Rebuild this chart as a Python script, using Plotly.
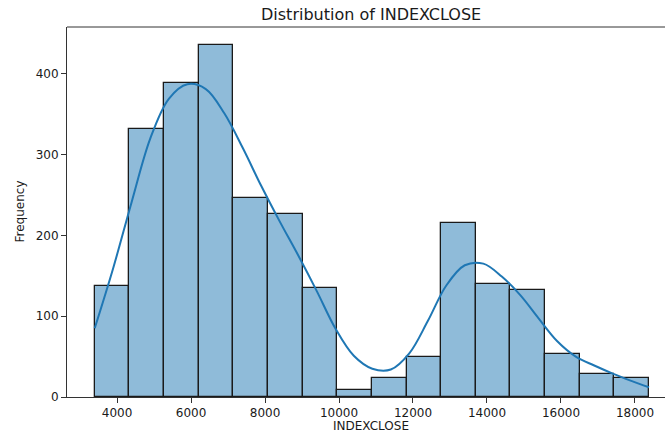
import numpy as np
import plotly.graph_objects as go

# Histogram of INDEXCLOSE: 16 equal-width bins between the observed min and max
data_min = 3397.0
data_max = 18379.0
n_bins = 16
counts = [137, 331, 388, 436, 246, 227, 135, 9, 23, 49, 215, 140, 133, 53, 29, 24]

# Kernel density estimate, scaled to counts
kde_x = [3397, 3900, 4400, 4900, 5400, 5900, 6400, 6900, 7400, 7900, 8400, 8900,
         9400, 9900, 10400, 10900, 11400, 11900, 12400, 12900, 13400, 13900,
         14400, 14900, 15400, 15900, 16400, 16900, 17400, 17900, 18379]
kde_y = [85, 160, 242, 320, 369, 387, 381, 351, 308, 261, 217, 175,
         131, 85, 51, 35, 34, 54, 94, 138, 163, 165,
         149, 126, 97, 69, 50, 39, 29, 20, 12]

x_ticks = [4000, 6000, 8000, 10000, 12000, 14000, 16000, 18000]
y_ticks = [0, 100, 200, 300, 400]

bin_width = (data_max - data_min) / n_bins
centers = data_min + bin_width * (np.arange(n_bins) + 0.5)

FONT = "DejaVu Sans"
INK = "#1a1a1a"
TICK_SIZE = 12

fig = go.Figure()
fig.add_trace(go.Bar(
    x=centers, y=counts, width=bin_width,
    marker=dict(color="rgba(31,119,180,0.5)", line=dict(color=INK, width=1.3)),
    showlegend=False,
))
fig.add_trace(go.Scatter(
    x=kde_x, y=kde_y, mode="lines",
    line=dict(color="#1f77b4", width=2, shape="spline", smoothing=1.0),
    showlegend=False,
))

pad = 0.05 * (data_max - data_min)
x_lo = data_min - pad
x_hi = x_lo + (data_max - data_min + 2 * pad) * 0.9808
y_hi = max(counts) * 1.05

fig.update_layout(
    width=665, height=432,
    margin=dict(l=67, r=0, t=27, b=35),
    paper_bgcolor="white", plot_bgcolor="white",
    font=dict(family=FONT, color=INK, size=TICK_SIZE),
    bargap=0,
    xaxis=dict(
        range=[x_lo, x_hi], tickvals=x_ticks, ticktext=[str(v) for v in x_ticks],
        showgrid=False, zeroline=False,
        showline=True, linecolor="#333333", linewidth=1, mirror=False,
        ticks="outside", ticklen=5, tickcolor="#333333",
        tickfont=dict(family=FONT, size=TICK_SIZE, color=INK),
    ),
    yaxis=dict(
        range=[0, y_hi], tickvals=y_ticks,
        showgrid=False, zeroline=False,
        showline=True, linecolor="#333333", linewidth=1,
        ticks="outside", ticklen=5, tickcolor="#333333",
        tickfont=dict(family=FONT, size=TICK_SIZE, color=INK),
    ),
    shapes=[dict(type="line", xref="paper", yref="paper", x0=0, x1=1, y0=1, y1=1,
                 line=dict(color="#333333", width=1))],
    annotations=[
        dict(text="Distribution of INDEXCLOSE", xref="paper", yref="paper",
             x=(371 - 67) / 598, y=1 + (27 - 15) / 370, xanchor="center", yanchor="middle",
             showarrow=False, font=dict(family=FONT, size=16, color=INK)),
        dict(text="INDEXCLOSE", xref="paper", yref="paper",
             x=(371 - 67) / 598, y=-(426 - 397) / 370, xanchor="center", yanchor="middle",
             showarrow=False, font=dict(family=FONT, size=TICK_SIZE, color=INK)),
        dict(text="Frequency", xref="paper", yref="paper",
             x=-(67 - 19.5) / 598, y=0.5, xanchor="center", yanchor="middle",
             textangle=-90, showarrow=False, font=dict(family=FONT, size=TICK_SIZE, color=INK)),
    ],
)

fig.write_html("out.html")
